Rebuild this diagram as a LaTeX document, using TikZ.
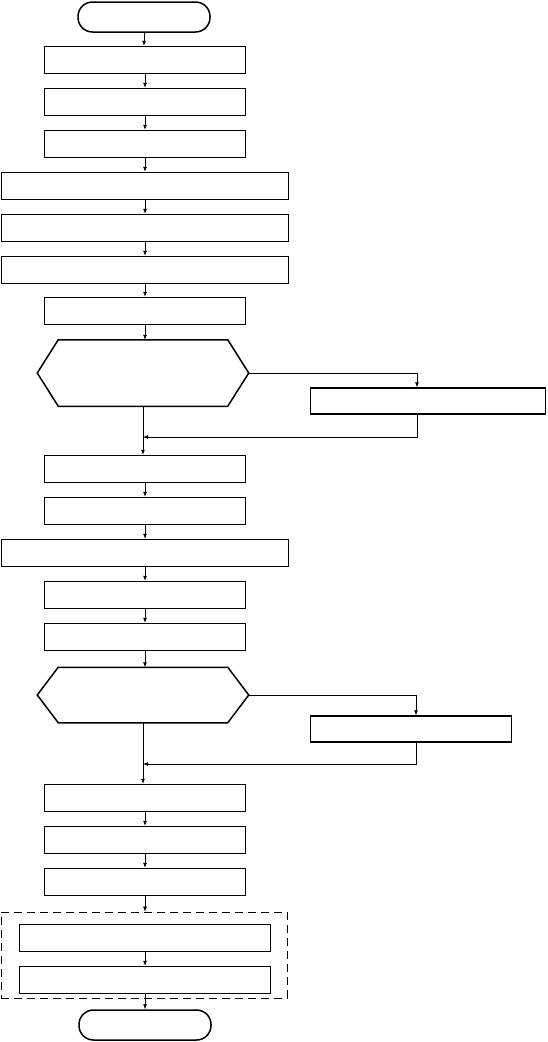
\documentclass[tikz,border=0pt]{standalone}
\usepackage{tikz}
\usetikzlibrary{arrows.meta}

\begin{document}
\begin{tikzpicture}[x=1pt,y=-1pt,>={Latex[length=5pt,width=4pt]},
  every node/.style={draw,line width=1.5pt,inner sep=0pt},
  term/.style={rounded corners=14.5pt,minimum width=132pt,minimum height=30pt},
  box/.style={minimum width=201pt,minimum height=27pt},
  widebox/.style={minimum width=287pt,minimum height=27pt},
  hexa/.style={draw=none,minimum width=210pt},
  flow/.style={->,line width=0.7pt}]
  \useasboundingbox (0,0) rectangle (547,1042);
  % main column
  \node[term] (start) at (144,17) {};
  \node[box] (b1) at (145,60) {};
  \node[box] (b2) at (145,102) {};
  \node[box] (b3) at (145,144) {};
  \node[widebox] (b4) at (145,186) {};
  \node[widebox] (b5) at (145,228) {};
  \node[widebox] (b6) at (145,270) {};
  \node[box] (b7) at (145,311) {};
  \node[hexa,minimum height=65pt] (d1) at (143,373) {};
  \node[minimum width=235pt,minimum height=26pt] (r1) at (428,401) {};
  \coordinate (m1) at (143,437);
  \node[box] (b8) at (145,469) {};
  \node[box] (b9) at (145,511) {};
  \node[widebox] (b10) at (145,553) {};
  \node[box] (b11) at (145,595) {};
  \node[box] (b12) at (145,637) {};
  \node[hexa,minimum height=54pt] (d2) at (143,695) {};
  \node[minimum width=201pt,minimum height=26pt] (r2) at (411,729) {};
  \coordinate (m2) at (143,764);
  \node[box] (b13) at (145,798) {};
  \node[box] (b14) at (145,840) {};
  \node[box] (b15) at (145,882) {};
  \node[box,minimum width=251pt] (b16) at (145,938) {};
  \node[box,minimum width=251pt] (b17) at (145,980) {};
  \node[dashed,dash pattern=on 8pt off 5pt,line width=0.8pt,
        minimum width=286pt,minimum height=86pt] (grp) at (144,955) {};
  \node[term] (stop) at (145,1025) {};

  % hexagon outlines for the decisions
  \foreach \d in {d1,d2}
    \draw[line width=1.5pt,line join=miter] (\d.west) -- ([xshift=21pt]\d.north west)
      -- ([xshift=-21pt]\d.north east) -- (\d.east)
      -- ([xshift=-21pt]\d.south east) -- ([xshift=21pt]\d.south west) -- cycle;

  % connectors
  \foreach \a/\b in {start/b1,b1/b2,b2/b3,b3/b4,b4/b5,b5/b6,b6/b7,b7/d1,
                     b8/b9,b9/b10,b10/b11,b11/b12,b12/d2,
                     b13/b14,b14/b15,b16/b17,b17/stop}
    \draw[flow] (\a.south) -- (\a.south |- \b.north);
  \draw[flow] (b15.south) -- (b15.south |- grp.north);

  % side branches
  \draw[flow] (d1.east) -| ([xshift=-11pt]r1.north);
  \draw[flow] ([xshift=-11pt]r1.south) |- (m1);
  \draw[line width=0.7pt] (d1.south) -- (m1);
  \draw[flow] (m1) -- (m1 |- b8.north);

  \draw[flow] (d2.east) -| ([xshift=5pt]r2.north);
  \draw[flow] ([xshift=5pt]r2.south) |- (m2);
  \draw[line width=0.7pt] (d2.south) -- (m2);
  \draw[flow] (m2) -- (m2 |- b13.north);
\end{tikzpicture}
\end{document}
